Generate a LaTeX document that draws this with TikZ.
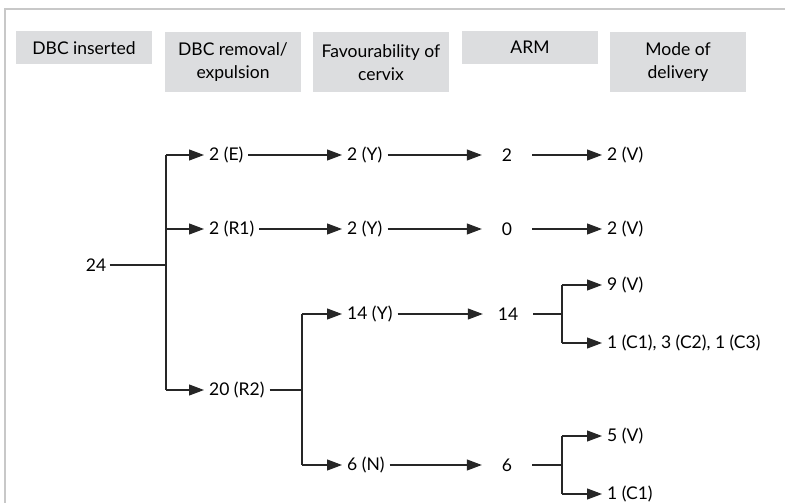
\documentclass[tikz,border=0pt]{standalone}
\usepackage{fontspec}
\setmainfont{Lato}
\usetikzlibrary{arrows.meta}
\definecolor{headgrey}{HTML}{DCDDDF}
\definecolor{framegrey}{HTML}{C8C8C8}

\begin{document}
\begin{tikzpicture}[x=1pt,y=-1pt,font=\fontsize{17.5}{23}\selectfont]
    \tikzstyle{head}=[fill=headgrey,anchor=north,minimum width=136pt,align=center,inner sep=0pt]
    \tikzstyle{count}=[anchor=west,inner xsep=5pt,inner ysep=2pt]
    \tikzstyle{arm}=[minimum width=50pt,inner sep=2pt]
    \tikzstyle{link}=[line width=1.1pt,draw=black!85]
    \tikzstyle{arr}=[link,-{Triangle[length=15pt,width=11pt]}]

    \useasboundingbox (0,0) rectangle (785,503);
    \draw[framegrey,line width=1.6pt] (785,9) -- (5,9) -- (5,503);

    % column heads
    \node[head,minimum height=33pt] at (84,31) (h1) {DBC inserted};
    \node[head,minimum height=60pt] at (233,32) (h2) {DBC removal/\\expulsion};
    \node[head,minimum height=60pt] at (381,32) (h3) {Favourability of\\cervix};
    \node[head,minimum height=33pt] at (530,31) (h4) {ARM};
    \node[head,minimum height=60pt] at (678,32) (h5) {Mode of\\delivery};

    % first split
    \node at (96,265) (n24) {24};
    \coordinate (t1) at (166,265);
    \node[count] at (204,155) (e2) {2 (E)};
    \node[count] at (204,229) (r1) {2 (R1)};
    \node[count] at (204,390) (r2) {20 (R2)};
    \draw[link] (n24) -- (t1);
    \draw[link] (t1 |- e2) -- (t1 |- r2);
    \draw[arr] (t1 |- e2) -- (e2);
    \draw[arr] (t1 |- r1) -- (r1);
    \draw[arr] (t1 |- r2) -- (r2);

    % expelled
    \node[count] at (342,155) (ye) {2 (Y)};
    \node[arm] at (507,155) (ae) {2};
    \node[count] at (602,155) (ve) {2 (V)};
    \draw[arr] (e2) -- (ye);
    \draw[arr] (ye) -- (ae);
    \draw[arr] (ae) -- (ve);

    % removed, R1
    \node[count] at (342,229) (yr) {2 (Y)};
    \node[arm] at (507,229) (ar) {0};
    \node[count] at (602,229) (vr) {2 (V)};
    \draw[arr] (r1) -- (yr);
    \draw[arr] (yr) -- (ar);
    \draw[arr] (ar) -- (vr);

    % removed, R2
    \coordinate (t2) at (302,390);
    \node[count] at (342,314) (y14) {14 (Y)};
    \node[count] at (342,465) (n6) {6 (N)};
    \draw[link] (r2) -- (t2);
    \draw[link] (t2 |- y14) -- (t2 |- n6);
    \draw[arr] (t2 |- y14) -- (y14);
    \draw[arr] (t2 |- n6) -- (n6);

    \node[arm] at (508,314) (a14) {14};
    \coordinate (t3) at (562,314);
    \node[count] at (602,285) (v9) {9 (V)};
    \node[count] at (602,343) (cs) {1 (C1), 3 (C2), 1 (C3)};
    \draw[arr] (y14) -- (a14);
    \draw[link] (a14) -- (t3);
    \draw[link] (t3 |- v9) -- (t3 |- cs);
    \draw[arr] (t3 |- v9) -- (v9);
    \draw[arr] (t3 |- cs) -- (cs);

    \node[arm] at (507,465) (a6) {6};
    \coordinate (t4) at (562,465);
    \node[count] at (602,436) (v5) {5 (V)};
    \node[count] at (602,494) (c1) {1 (C1)};
    \draw[arr] (n6) -- (a6);
    \draw[link] (a6) -- (t4);
    \draw[link] (t4 |- v5) -- (t4 |- c1);
    \draw[arr] (t4 |- v5) -- (v5);
    \draw[arr] (t4 |- c1) -- (c1);
\end{tikzpicture}
\end{document}
